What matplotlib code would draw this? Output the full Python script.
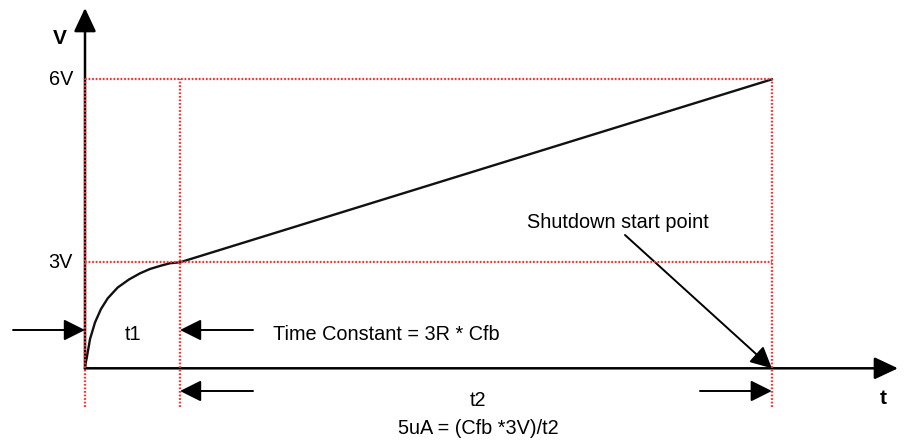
import matplotlib
matplotlib.use("Agg")
import matplotlib.pyplot as plt

plt.rcParams['font.family'] = ['Liberation Sans', 'DejaVu Sans']

# schematic data (x: time units with t1 = 1, y: schematic level units with 3V = 1)
curve_t = [0, 0.006, 0.019, 0.053, 0.105, 0.168, 0.239, 0.344, 0.463, 0.579, 0.684, 0.806, 0.895, 1.0]
curve_v = [0, 0.045, 0.102, 0.276, 0.432, 0.559, 0.660, 0.762, 0.838, 0.896, 0.937, 0.970, 0.991, 1.0]
ramp_t = [1.0, 7.23]
ramp_v = [1.0, 2.726]
level_pos = [1.0, 2.726]
level_labels = ["3V", "6V"]
t_marks = [0, 1.0, 7.23]

W, H = 907, 445
fig = plt.figure(figsize=(W / 100, H / 100), dpi=100)
ax = fig.add_axes([0, 0, 1, 1])
px_x, px_y = 95.0, 106.0
ox, oy = 85.0, 368.3
ax.set_xlim(-ox / px_x, (W - ox) / px_x)
ax.set_ylim(-(H - oy) / px_y, oy / px_y)
ax.axis('off')

def X(p):
    return (p - ox) / px_x

def Y(p):
    return (oy - p) / px_y

red = '#ff3030'
top = level_pos[-1]
bot = Y(407)
# red dotted guide lines
for tm in t_marks:
    ax.plot([tm, tm], [bot, top], color=red, ls=(0, (0.8, 0.8)), lw=1.6, zorder=5)
for lv in level_pos:
    ax.plot([0, t_marks[-1]], [lv, lv], color=red, ls=(0, (0.8, 0.8)), lw=1.6, zorder=5)

# curve
ax.plot(curve_t, curve_v, color='#111111', lw=1.7, zorder=3, solid_joinstyle='round')
ax.plot(ramp_t, ramp_v, color='#111111', lw=1.7, zorder=3)

def arrow(x0, y0, x1, y1, hl=1.3, hw=0.65, lw=1.4):
    ax.annotate('', xy=(x1, y1), xytext=(x0, y0),
                arrowprops=dict(arrowstyle=f'-|>,head_length={hl},head_width={hw}',
                                mutation_scale=10, color='black', lw=lw,
                                shrinkA=0, shrinkB=0), zorder=4)

# axes
arrow(0, 0, 0, Y(8), hl=1.45, hw=0.68, lw=1.8)
arrow(0, 0, X(898), 0, hl=1.45, hw=0.68, lw=1.8)

# dimension arrows
arrow(X(13), Y(330), 0, Y(330))
arrow(X(253), Y(330), 1.0, Y(330))
arrow(X(253), Y(391), 1.0, Y(391))
arrow(X(700), Y(391), t_marks[-1], Y(391))
arrow(X(625), Y(235), t_marks[-1], 0, lw=1.4)

fs = 14.3
ax.text(X(60), Y(38), 'V', fontsize=15, fontweight='bold', ha='center', va='center')
ax.text(X(883), Y(398), 't', fontsize=15, fontweight='bold', ha='center', va='center')
for lv, lab in zip(level_pos, level_labels):
    ax.text(X(73), lv, lab, fontsize=fs, ha='right', va='center')
ax.text(X(133), Y(334), 't1', fontsize=fs, ha='center', va='center')
ax.text(X(273), Y(334), 'Time Constant = 3R * Cfb', fontsize=fs, ha='left', va='center')
ax.text(X(527), Y(222), 'Shutdown start point', fontsize=fs, ha='left', va='center')
ax.text(X(478), Y(400), 't2', fontsize=fs, ha='center', va='center')
ax.text(X(478), Y(428), '5uA = (Cfb *3V)/t2', fontsize=fs, ha='center', va='center')

fig.savefig('out.png', dpi=100, facecolor='white')
